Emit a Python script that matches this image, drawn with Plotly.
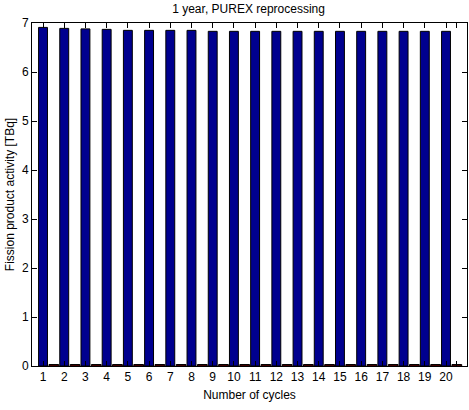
import plotly.graph_objects as go

cycles = list(range(1, 21))
fission_activity = [6.91, 6.89, 6.88, 6.87, 6.85, 6.85, 6.85, 6.85, 6.83, 6.83,
                    6.83, 6.83, 6.83, 6.83, 6.83, 6.83, 6.83, 6.83, 6.83, 6.83]
second_series = [0.03] * 20
tick_vals = cycles + [20.5]
tick_text = [str(c) for c in cycles] + [""]

font = dict(family="Liberation Sans, Arial, sans-serif", size=12, color="black")

fig = go.Figure()
fig.add_trace(go.Bar(x=cycles, y=fission_activity, width=0.42, offset=-0.21,
                     marker=dict(color="#00008F", line=dict(color="black", width=1)),
                     showlegend=False))
fig.add_trace(go.Bar(x=cycles, y=second_series, width=0.46, offset=0.28,
                     marker=dict(color="#800000", line=dict(color="black", width=1)),
                     showlegend=False))

fig.update_layout(
    width=469, height=410,
    margin=dict(l=32, r=2, t=23, b=44, autoexpand=False),
    paper_bgcolor="white", plot_bgcolor="white",
    font=font,
    barmode="overlay",
    title=dict(text="1 year, PUREX reprocessing", x=0.53, xanchor="center",
               y=0.978, yanchor="middle", font=dict(size=12)),
    xaxis=dict(range=[0.48, 20.99], tickmode="array", tickvals=tick_vals, ticktext=tick_text,
               ticks="inside", ticklen=5, tickcolor="black", showline=True, linecolor="black",
               linewidth=1, mirror="ticks", showgrid=False, zeroline=False, automargin=False,
               tickfont=dict(size=12),
               title=dict(text="Number of cycles", standoff=7, font=dict(size=12))),
    yaxis=dict(range=[0, 7], tickmode="array", tickvals=list(range(0, 8)),
               ticks="inside", ticklen=5, tickcolor="black", showline=True, linecolor="black",
               linewidth=1, mirror="ticks", showgrid=False, zeroline=False, automargin=False,
               tickfont=dict(size=12),
               title=dict(text="Fission product activity [TBq]", standoff=4, font=dict(size=12))),
)

fig.write_html("out.html", config={"displayModeBar": False},
               post_script="document.body.style.margin='0';document.body.style.padding='0';"
                           "document.body.style.overflow='hidden';")
